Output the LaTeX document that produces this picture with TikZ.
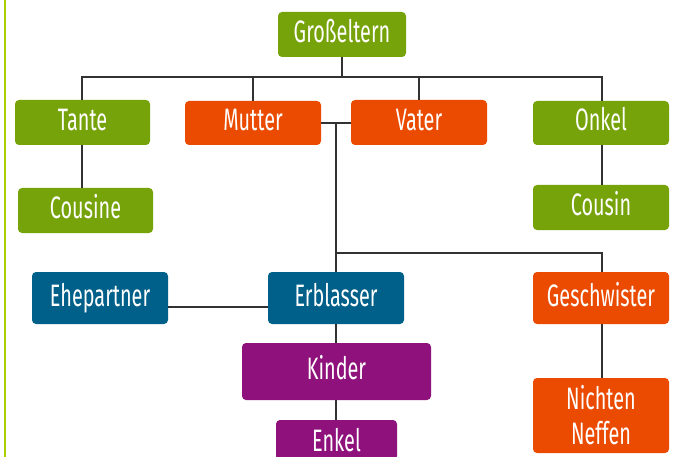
\documentclass[tikz,border=0pt]{standalone}
\usepackage{fontspec}
\setmainfont{Fira Sans}[FakeStretch=0.64]
\usetikzlibrary{calc}
\definecolor{cgreen}{RGB}{118,163,10}
\definecolor{corange}{RGB}{234,75,0}
\definecolor{cblue}{RGB}{0,96,138}
\definecolor{cpurple}{RGB}{142,17,124}
\definecolor{clime}{RGB}{170,208,0}
\definecolor{cline}{RGB}{50,50,50}
\tikzset{
  box/.style={rounded corners=4pt, text=white, align=center, inner sep=0pt,
    text height=22pt, text depth=6pt,
    font=\fontsize{31}{35}\selectfont},
  gbox/.style={box, fill=cgreen},
  obox/.style={box, fill=corange},
  bbox/.style={box, fill=cblue},
  pbox/.style={box, fill=cpurple},
  conn/.style={draw=cline, line width=1.3pt},
}
\begin{document}
\begin{tikzpicture}[x=1pt,y=-1pt]
\useasboundingbox (0,0) rectangle (677,457);
\coordinate (busL) at (82,77);
\coordinate (busR) at (602,77);
\coordinate (gbus) at (342,77);
\coordinate (mv) at (336,123);
\coordinate (sib) at (336,253);
\begin{scope}
\clip (0,0) rectangle (677,457);
\draw[clime, line width=2pt] (4.5,0) -- (4.5,457);
\node[gbox, minimum width=128pt, minimum height=45pt] (gross) at (342,34.5) {Großeltern};
\node[gbox, minimum width=135pt, minimum height=45pt] (tante) at (82.5,122.5) {Tante};
\node[obox, minimum width=136pt, minimum height=44pt] (mutter) at (253,123) {Mutter};
\node[obox, minimum width=136pt, minimum height=45pt] (vater) at (419,122.5) {Vater};
\node[gbox, minimum width=136pt, minimum height=44pt] (onkel) at (601,123) {Onkel};
\node[gbox, minimum width=135pt, minimum height=45pt] (cousine) at (85.5,210.5) {Cousine};
\node[gbox, minimum width=136pt, minimum height=45pt] (cousin) at (601,207.5) {Cousin};
\node[bbox, minimum width=136pt, minimum height=52pt] (ehe) at (100,298) {Ehepartner};
\node[bbox, minimum width=136pt, minimum height=52pt] (erb) at (336,298) {Erblasser};
\node[obox, minimum width=136pt, minimum height=52pt] (gesch) at (601,298) {Geschwister};
\node[pbox, minimum width=189pt, minimum height=57pt] (kinder) at (336.5,371.5) {Kinder};
\node[pbox, text depth=0pt, minimum width=121pt, minimum height=40pt] (enkel) at (336.5,440) {Enkel};
\node[obox, text height=, text depth=, minimum width=136pt, minimum height=75pt] (nichten) at (601,415.5) {Nichten\\Neffen};
\end{scope}
% connectors
\path[conn] (tante.north -| busL) -- (busL) -- (busR) -- (onkel.north -| busR);
\path[conn] (gross.south -| gbus) -- (gbus);
\path[conn] (mutter.north) -- (mutter.north |- busL);
\path[conn] (vater.north) -- (vater.north |- busL);
\path[conn] (tante.south -| busL) -- (cousine.north -| busL);
\path[conn] (onkel.south -| busR) -- (cousin.north -| busR);
\path[conn] (mutter.east |- mv) -- (vater.west |- mv);
\path[conn] (mv) -- (erb.north -| mv);
\path[conn] (sib) -- (sib -| busR) -- (gesch.north -| busR);
\path[conn] (erb.south -| mv) -- (kinder.north -| mv);
\path[conn] (kinder.south -| mv) -- (enkel.north -| mv);
\path[conn] ($(ehe.east)+(0,9)$) -- ($(erb.west)+(0,9)$);
\path[conn] (gesch.south -| busR) -- (nichten.north -| busR);
\end{tikzpicture}
\end{document}
